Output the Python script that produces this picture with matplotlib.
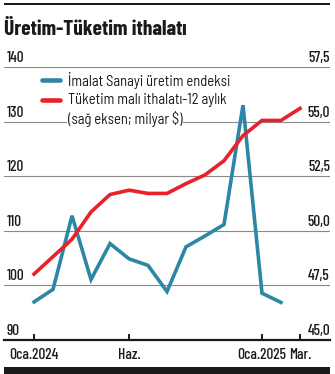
import matplotlib
matplotlib.use("Agg")
import matplotlib.pyplot as plt
import matplotlib.transforms as mtransforms
from matplotlib.lines import Line2D
from matplotlib.patches import Rectangle

plt.rcParams["font.family"] = ["Barlow Semi Condensed", "DejaVu Sans"]
NARROW = ["Barlow Condensed", "DejaVu Sans"]

W, H = 335, 374

# months since Oca.2024
months_blue = list(range(14))
uretim = [96.9, 99.2, 112.7, 101.0, 107.6, 104.8, 103.6, 98.8, 107.0, 109.0, 111.1, 133.0, 98.5, 96.8]
months_red = list(range(15))
tuketim = [48.0, 48.8, 49.6, 50.85, 51.65, 51.85, 51.7, 51.7, 52.15, 52.55, 53.2, 54.35, 55.05, 55.05, 55.6]

xtick_pos = [0, 5, 12, 14]
xtick_labels = ["Oca.2024", "Haz.", "Oca.2025", "Mar."]
left_ticks = [90, 100, 110, 120, 130, 140]
right_ticks = [45.0, 47.5, 50.0, 52.5, 55.0, 57.5]

BLUE = "#2b87a5"
RED = "#e8212b"
GRID = "#8a8a8a"
INK = "#1a1a1a"


def fx(px):
    return px / W


def fy(py):
    return 1 - py / H


fig = plt.figure(figsize=(W / 100, H / 100), dpi=100)
fig.patch.set_facecolor("white")

# plot area in pixels
x0, x1 = 4, 330
y_top, y_bot = 67, 339.5
ax = fig.add_axes([fx(x0), fy(y_bot), fx(x1 - x0), (y_bot - y_top) / H])
ax.set_xlim(-1.58, 15.58)
ax.set_ylim(90, 140)
ax2 = ax.twinx()
ax2.set_ylim(45, 57.5)

for a in (ax, ax2):
    for s in a.spines.values():
        s.set_visible(False)
    a.set_yticks([])
ax.spines["bottom"].set_visible(True)
ax.spines["bottom"].set_linewidth(1.6)
ax.spines["bottom"].set_color(INK)
ax.set_facecolor("none")

for v in left_ticks[1:]:
    ax.axhline(v, color=GRID, lw=0.8, zorder=0)

ax.set_xticks(xtick_pos)
ax.set_xticklabels(xtick_labels, fontsize=11, color=INK, family=NARROW, fontweight="medium")
ax.tick_params(axis="x", direction="in", length=4, width=1.4, color=INK, pad=6)

ax.plot(months_blue, uretim, color=BLUE, lw=2.6, solid_joinstyle="miter", zorder=3)
ax2.plot(months_red, tuketim, color=RED, lw=2.6, solid_joinstyle="miter", zorder=3)

# y tick labels sitting above the gridlines
lab_tr = mtransforms.offset_copy(ax.get_yaxis_transform(), fig=fig, x=0, y=3.5, units="points")
for v in left_ticks:
    ax.text(3 / (x1 - x0), v, str(v), transform=lab_tr, ha="left", va="baseline",
            fontsize=11, family=NARROW, fontweight="medium", color=INK)
lab_tr2 = mtransforms.offset_copy(ax2.get_yaxis_transform(), fig=fig, x=0, y=3.5, units="points")
for v in right_ticks:
    ax2.text(1.0, v, f"{v:.1f}".replace(".", ","), transform=lab_tr2, ha="right",
             va="baseline", fontsize=11, family=NARROW, fontweight="medium", color=INK)

# legend
leg = [(80.3, BLUE, "İmalat Sanayi üretim endeksi"),
       (99.7, RED, "Tüketim malı ithalatı-12 aylık")]
for yy, col, txt in leg:
    fig.add_artist(Line2D([fx(42), fx(60)], [fy(yy), fy(yy)], color=col, lw=3.3,
                          solid_capstyle="round"))
    fig.text(fx(68), fy(yy), txt, ha="left", va="center", fontsize=10.5, color=INK,
             bbox=dict(facecolor="white", edgecolor="none", pad=0.5))
fig.text(fx(68), fy(118.5), "(sağ eksen; milyar $)", ha="left", va="center", fontsize=10.5,
         color=INK, bbox=dict(facecolor="white", edgecolor="none", pad=0.5))

# title and frame bars
fig.text(fx(4), fy(35), "Üretim-Tüketim ithalatı", ha="left", va="baseline",
         fontsize=15.5, fontweight="bold", family=NARROW, color=INK)
fig.add_artist(Rectangle((fx(4), fy(5)), fx(326), 2 / H, transform=fig.transFigure,
                         facecolor=INK, edgecolor="none"))
fig.add_artist(Rectangle((fx(4), 0), fx(326), 7 / H, transform=fig.transFigure,
                         facecolor=INK, edgecolor="none"))

fig.savefig("out.png", dpi=100, facecolor="white")
